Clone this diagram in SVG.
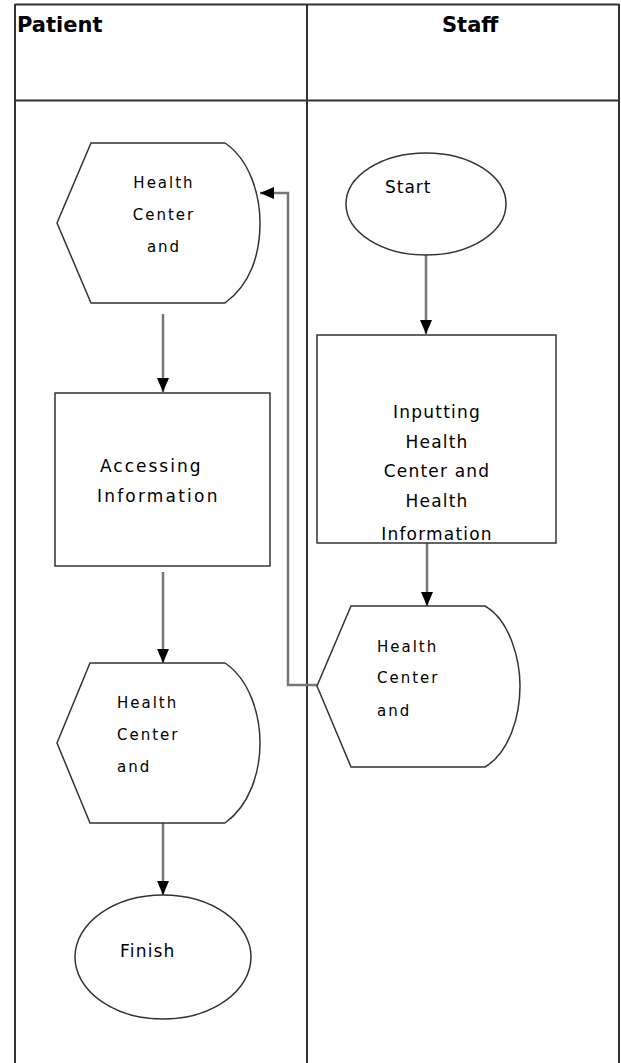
<svg xmlns="http://www.w3.org/2000/svg" width="621" height="1063" viewBox="0 0 621 1063">
<style>
.frame{stroke:#333;stroke-width:2;fill:none}
.shape{fill:#fff;stroke:#333;stroke-width:1.5}
.conn{fill:none;stroke:#777;stroke-width:2.5}
.hdr{font-family:"DejaVu Sans",sans-serif;font-weight:bold;font-size:21px;fill:#000}
.t{font-family:"DejaVu Sans",sans-serif;font-size:17px;fill:#000}
.td{font-family:"DejaVu Sans",sans-serif;font-size:15px;letter-spacing:2px;fill:#000}
</style>
<defs>
<marker id="ah" markerUnits="userSpaceOnUse" markerWidth="16" markerHeight="16" viewBox="0 0 16 16" refX="15" refY="8" orient="auto">
<path d="M1,2 L15,8 L1,14 Z" fill="#000"/>
</marker>
</defs>
<rect width="621" height="1063" fill="#fff"/>
<g id="lanes">
<path class="frame" d="M15,4.5 H619 M15,4 V1063 M619,4 V1063 M15,100.5 H619 M307,4 V1063"/>
<text class="hdr" x="17" y="32">Patient</text>
<text class="hdr" x="442" y="32">Staff</text>
</g>
<g id="connectors">
<path class="conn" d="M426,255 V334" marker-end="url(#ah)"/>
<path class="conn" d="M427,543 V606" marker-end="url(#ah)"/>
<path class="conn" d="M317,685 H288 V193 H260" marker-end="url(#ah)"/>
<path class="conn" d="M163,314 V392" marker-end="url(#ah)"/>
<path class="conn" d="M163,572 V663" marker-end="url(#ah)"/>
<path class="conn" d="M163,823 V895" marker-end="url(#ah)"/>
</g>
<g id="start">
<ellipse class="shape" cx="426" cy="204" rx="80" ry="51"/>
<text class="t" x="385" y="193" style="letter-spacing:1px">Start</text>
</g>
<g id="inputting">
<rect class="shape" x="317" y="335" width="239" height="208"/>
<g class="t" text-anchor="middle" style="letter-spacing:1.2px">
<text x="437" y="418">Inputting</text>
<text x="437" y="448">Health</text>
<text x="437" y="477">Center and</text>
<text x="437" y="507">Health</text>
<text x="437" y="540">Information</text>
</g>
</g>
<g id="staff-display">
<path class="shape" d="M351,606 L485,606 C510,620 520,660 520,686 C520,715 510,752 485,767 L351,767 L317,686 Z"/>
<text class="td" x="377" y="652">Health</text>
<text class="td" x="377" y="683">Center</text>
<text class="td" x="377" y="716">and</text>
</g>
<g id="patient-display-1">
<path class="shape" d="M91,143 L225,143 C250,160 260,195 260,223 C260,255 250,285 225,303 L91,303 L57,223 Z"/>
<text class="td" x="164" y="188" text-anchor="middle">Health</text>
<text class="td" x="164" y="220" text-anchor="middle">Center</text>
<text class="td" x="164" y="252" text-anchor="middle">and</text>
</g>
<g id="accessing">
<rect class="shape" x="55" y="393" width="215" height="173"/>
<text class="t" x="100" y="472" style="letter-spacing:2px">Accessing</text>
<text class="t" x="97" y="502" style="letter-spacing:2.2px">Information</text>
</g>
<g id="patient-display-2">
<path class="shape" d="M90,663 L225,663 C250,680 260,715 260,743 C260,772 250,805 225,823 L90,823 L57,743 Z"/>
<text class="td" x="117" y="708">Health</text>
<text class="td" x="117" y="740">Center</text>
<text class="td" x="117" y="772">and</text>
</g>
<g id="finish">
<ellipse class="shape" cx="163" cy="957" rx="88" ry="62"/>
<text class="t" x="120" y="957" style="letter-spacing:1.2px">Finish</text>
</g>
</svg>
